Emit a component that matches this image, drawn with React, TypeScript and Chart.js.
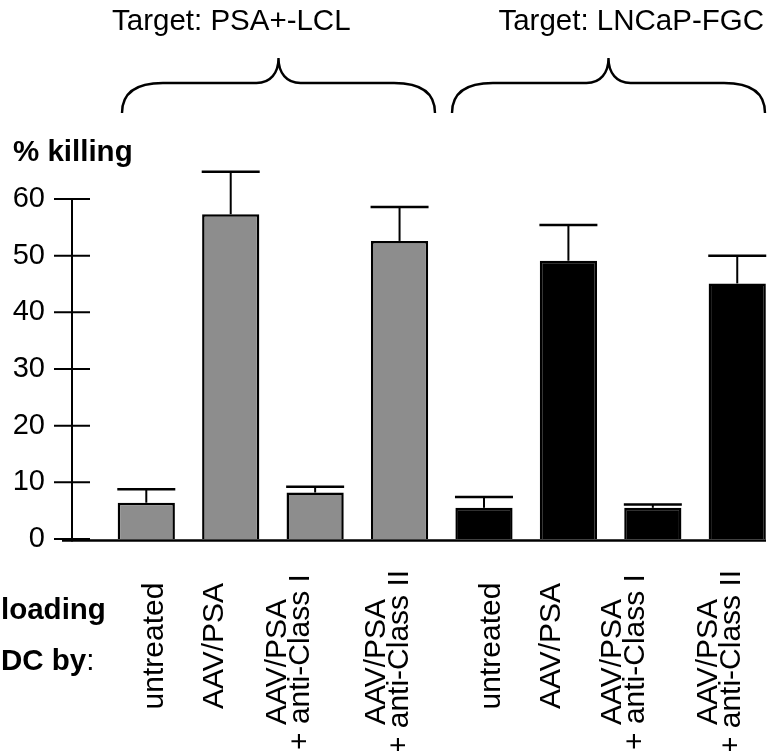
import { useEffect, useRef } from 'react';
import { Chart, registerables } from 'chart.js';

Chart.register(...registerables);

// ---- data ----
const categories: string[][] = [
  ['untreated'],
  ['AAV/PSA'],
  ['AAV/PSA', '+ anti-Class I'],
  ['AAV/PSA', '+ anti-Class II'],
  ['untreated'],
  ['AAV/PSA'],
  ['AAV/PSA', '+ anti-Class I'],
  ['AAV/PSA', '+ anti-Class II'],
];
const targets = ['Target: PSA+-LCL', 'Target: LNCaP-FGC'];
const killing = [6.4, 57.3, 8.2, 52.6, 5.5, 49.1, 5.5, 45.1];
const errors = [2.4, 7.5, 1.0, 6.0, 1.9, 6.3, 0.6, 4.9];
const yMin = 0;
const yMax = 60;
const yStep = 10;
const yTitle = '% killing';
const rowTitles = ['loading', 'DC by'];

// ---- styles / layout ----
const GRAY = '#8d8d8d';
const BLACK = '#000000';
const barFill = categories.map((_, i) => (i < 4 ? GRAY : BLACK));
const FONT = "'Liberation Sans', Arial, Helvetica, sans-serif";
const labelNudge = [17, -8, -6, 8, 16, -8, -9, 3];

const decor = {
  id: 'decor',
  afterDatasetsDraw(chart: any) {
    const ctx = chart.ctx;
    const y = chart.scales.y;
    const meta = chart.getDatasetMeta(0);
    ctx.save();
    ctx.strokeStyle = '#000';
    meta.data.forEach((bar: any, i: number) => {
      const top = y.getPixelForValue(killing[i] + errors[i]);
      ctx.lineWidth = 2;
      ctx.beginPath();
      ctx.moveTo(bar.x, bar.y);
      ctx.lineTo(bar.x, top);
      ctx.stroke();
      ctx.lineWidth = 2.5;
      ctx.beginPath();
      ctx.moveTo(bar.x - 29, top);
      ctx.lineTo(bar.x + 29, top);
      ctx.stroke();
    });
    ctx.restore();
  },
  afterDraw(chart: any) {
    const ctx = chart.ctx;
    const ys = chart.scales.y;
    const xs = chart.scales.x;
    const area = chart.chartArea;
    ctx.save();
    ctx.strokeStyle = '#000';
    ctx.fillStyle = '#000';

    // y axis line and crossing ticks
    const ax = area.left;
    const zeroPx = ys.getPixelForValue(0);
    ctx.lineWidth = 2;
    ctx.beginPath();
    ctx.moveTo(ax, ys.getPixelForValue(yMax));
    ctx.lineTo(ax, zeroPx + 2.5);
    ctx.stroke();
    ys.ticks.forEach((t: any) => {
      const py = ys.getPixelForValue(t.value);
      ctx.beginPath();
      ctx.moveTo(ax - 18, py);
      ctx.lineTo(ax + 18, py);
      ctx.stroke();
    });
    // baseline
    ctx.lineWidth = 2.5;
    ctx.beginPath();
    ctx.moveTo(ax - 10, zeroPx + 1.5);
    ctx.lineTo(area.right - 4, zeroPx + 1.5);
    ctx.stroke();

    // braces
    const brace = (l: number, r: number, tipY: number, midY: number, endY: number) => {
      const c = (l + r) / 2;
      ctx.beginPath();
      ctx.moveTo(l, endY);
      ctx.bezierCurveTo(l, midY + 10, l + 14, midY, l + 41, midY);
      ctx.lineTo(c - 22, midY);
      ctx.bezierCurveTo(c - 8, midY, c, midY - 10, c, tipY);
      ctx.bezierCurveTo(c, midY - 10, c + 8, midY, c + 22, midY);
      ctx.lineTo(r - 41, midY);
      ctx.bezierCurveTo(r - 14, midY, r, midY + 10, r, endY);
      ctx.stroke();
    };
    ctx.lineWidth = 2.4;
    brace(122, 435, 58, 83, 113);
    brace(452, 765, 58, 83, 113);

    // titles
    ctx.font = `29.5px ${FONT}`;
    ctx.textBaseline = 'alphabetic';
    ctx.textAlign = 'left';
    ctx.fillText(targets[0], 112, 30);
    ctx.textAlign = 'right';
    ctx.fillText(targets[1], 764, 30);

    ctx.textAlign = 'left';
    ctx.font = `bold 29.5px ${FONT}`;
    ctx.fillText(yTitle, 13, 161);

    ctx.font = `bold 29.5px ${FONT}`;
    ctx.fillText(rowTitles[0], 1, 619);
    ctx.fillText(rowTitles[1], 1, 670);
    const w = ctx.measureText(rowTitles[1]).width;
    ctx.font = `29.5px ${FONT}`;
    ctx.fillText(':', 1 + w, 670);

    // rotated category labels
    ctx.font = `30px ${FONT}`;
    ctx.textAlign = 'center';
    categories.forEach((lines, i) => {
      const baseX = xs.getPixelForValue(i) + labelNudge[i];
      const cy = 646 + (lines.length - 1) * 16;
      lines.forEach((line, j) => {
        const bx = baseX - (lines.length - 1 - j) * 23;
        ctx.save();
        ctx.translate(bx, cy);
        ctx.rotate(-Math.PI / 2);
        ctx.fillText(line, 0, 0);
        ctx.restore();
      });
    });
    ctx.restore();
  },
};

export default function App() {
  const ref = useRef<HTMLCanvasElement>(null);
  useEffect(() => {
    const chart = new Chart(ref.current as HTMLCanvasElement, {
      type: 'bar',
      data: {
        datasets: [
          {
            data: killing.map((v, i) => ({ x: i, y: v })) as any,
            backgroundColor: barFill,
            borderColor: BLACK,
            borderWidth: 2.5,
            barPercentage: 0.77,
            categoryPercentage: 1,
          },
        ],
      },
      options: {
        responsive: false,
        animation: false,
        layout: { padding: { left: 0, right: 2, top: 199, bottom: 212 } },
        plugins: { legend: { display: false }, tooltip: { enabled: false } },
        scales: {
          x: { type: 'linear', display: false, min: -0.88, max: 7.388, offset: false },
          y: {
            min: yMin,
            max: yMax,
            ticks: { stepSize: yStep, padding: 27, color: '#000', font: { family: FONT, size: 29 } },
            grid: { display: false, drawTicks: false },
            border: { display: false },
            afterFit: (s: any) => {
              s.width = 72;
            },
          },
        },
      } as any,
      plugins: [decor],
    });
    return () => chart.destroy();
  }, []);
  return (
    <canvas
      ref={ref}
      width={772}
      height={751}
      style={{ position: 'fixed', left: 0, top: 0, width: 772, height: 751 }}
    />
  );
}
